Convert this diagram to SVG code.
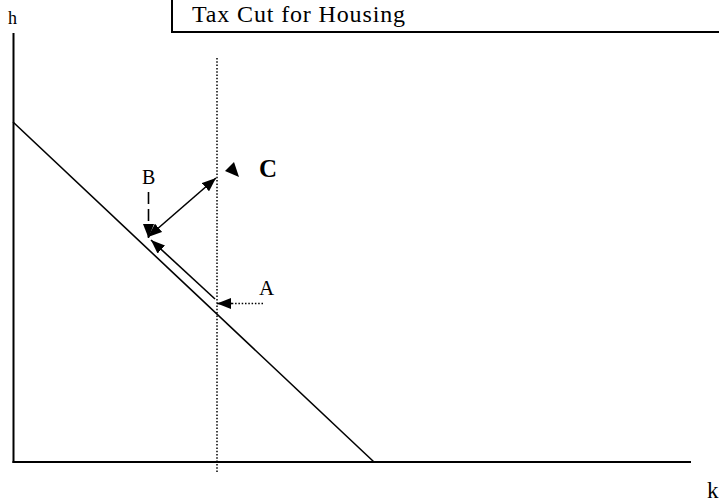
<svg xmlns="http://www.w3.org/2000/svg" width="719" height="502" viewBox="0 0 719 502">
  <style>
    .t { font-family: "Liberation Serif", "Times New Roman", serif; fill: #000; }
    .ax { stroke: #000; stroke-width: 2; fill: none; }
    .ln { stroke: #000; stroke-width: 1.6; fill: none; }
    .dot { stroke: #000; stroke-width: 1.5; stroke-dasharray: 1.5 1.8; fill: none; }
    .dash { stroke: #000; stroke-width: 1.6; stroke-dasharray: 12 5; fill: none; }
  </style>
  <defs>
    <marker id="ah" viewBox="0 0 14 11" refX="14" refY="5.5" markerWidth="14" markerHeight="11" orient="auto-start-reverse" markerUnits="userSpaceOnUse">
      <path d="M0,0 L14,5.5 L0,11 z" fill="#000"/>
    </marker>
  </defs>
  <rect width="719" height="502" fill="#fff"/>

  <g id="title">
    <rect x="172" y="-5" width="560" height="37" fill="#fff" stroke="#000" stroke-width="2"/>
    <text class="t" x="192" y="22" font-size="24" textLength="213" lengthAdjust="spacing">Tax Cut for Housing</text>
  </g>

  <g id="axes">
    <line class="ax" x1="13.5" y1="33" x2="13.5" y2="463"/>
    <line class="ax" x1="12.5" y1="462" x2="691" y2="462"/>
    <text class="t" x="8" y="24" font-size="18">h</text>
    <text class="t" x="707" y="498" font-size="23">k</text>
  </g>

  <g id="budget-line">
    <line class="ln" x1="13" y1="122" x2="374" y2="462"/>
  </g>

  <g id="label-A"><text class="t" x="259" y="295" font-size="21">A</text></g>
  <g id="label-B"><text class="t" x="142" y="184" font-size="20">B</text></g>
  <g id="label-C"><text class="t" x="259" y="177" font-size="25" font-weight="bold">C</text></g>

  <g id="connectors">
    <line class="dot" x1="217" y1="58" x2="217" y2="473"/>
    <line class="dot" x1="263" y1="303.5" x2="230" y2="303.5"/>
    <line class="ln" x1="232" y1="303.5" x2="217" y2="303.5" marker-end="url(#ah)"/>
    <line class="ln" x1="215" y1="299" x2="151" y2="240" marker-end="url(#ah)"/>
    <line class="ln" x1="148" y1="237" x2="216" y2="178" marker-start="url(#ah)" marker-end="url(#ah)"/>
    <line class="dash" x1="148.5" y1="192" x2="148.5" y2="226"/>
    <line class="ln" x1="148.5" y1="224" x2="148.5" y2="238" marker-end="url(#ah)"/>
    <polygon points="225,171 234,162 239,177" fill="#000"/>
  </g>
</svg>
